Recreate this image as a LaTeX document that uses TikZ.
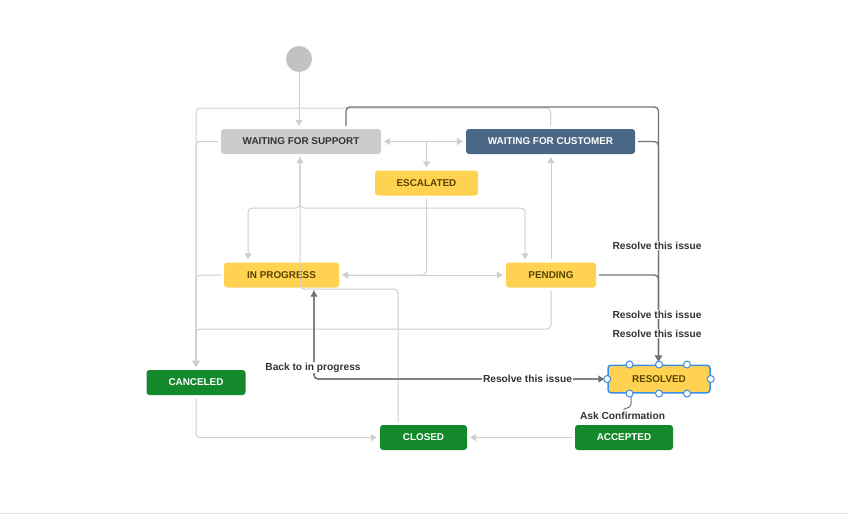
\documentclass[tikz,border=0pt]{standalone}
\usepackage{fontspec}
\setmainfont{Liberation Sans}
\usetikzlibrary{arrows.meta, positioning}
\definecolor{waitgray}{HTML}{CCCCCC}
\definecolor{custblue}{HTML}{4A6785}
\definecolor{todoyellow}{HTML}{FFD351}
\definecolor{donegreen}{HTML}{14892C}
\definecolor{textbrown}{HTML}{594300}
\definecolor{textdark}{HTML}{333333}
\definecolor{liteline}{HTML}{CFCFCF}
\definecolor{darkline}{HTML}{727272}
\definecolor{selblue}{HTML}{3B8EE4}
\definecolor{startgray}{HTML}{C2C2C2}
\newcommand\statusfont{\fontsize{9.9}{11}\selectfont\bfseries}
\newcommand\labelfont{\fontsize{10.2}{12}\selectfont\bfseries}

\tikzset{
  status/.style={rectangle, rounded corners=3pt, minimum height=25pt, inner sep=0pt, font=\statusfont},
  waitbox/.style={status, fill=waitgray, text=textdark},
  custbox/.style={status, fill=custblue, text=white},
  yellowbox/.style={status, fill=todoyellow, text=textbrown},
  greenbox/.style={status, fill=donegreen, text=white},
  startdot/.style={circle, fill=startgray, minimum size=26pt, inner sep=0pt},
  lite/.style={draw=liteline, line width=1pt, rounded corners=4pt, shorten >=3pt, shorten <=3pt, -{Triangle[length=6pt,width=7pt]}},
  dark/.style={draw=darkline, line width=1.3pt, rounded corners=4pt, shorten >=3pt, shorten <=3pt, -{Triangle[length=6pt,width=7pt]}},
  both/.style={{Triangle[length=6pt,width=7pt]}-{Triangle[length=6pt,width=7pt]}},
  lbl/.style={fill=white, inner sep=1pt, text=textdark, font=\labelfont},
  handle/.style={draw=selblue, fill=white, line width=1pt}
}

\begin{document}
\begin{tikzpicture}[x=1pt, y=-1pt]
\useasboundingbox (0,0) rectangle (847,523);

% statuses
\node[startdot] (start) at (299,59) {};
\node[waitbox, minimum width=160pt] (wfs) at (301,141.5) {WAITING FOR SUPPORT};
\node[custbox, minimum width=169pt] (wfc) at (550.5,141.5) {WAITING FOR CUSTOMER};
\node[yellowbox, minimum width=103pt] (esc) at (426.5,183) {ESCALATED};
\node[yellowbox, minimum width=115pt] (inprog) at (281.5,275) {IN PROGRESS};
\node[yellowbox, minimum width=90pt] (pend) at (551,275) {PENDING};
\node[greenbox, minimum width=99pt] (canceled) at (196,382.5) {CANCELED};
\node[greenbox, minimum width=87pt] (closed) at (423.5,437.5) {CLOSED};
\node[greenbox, minimum width=98pt] (accepted) at (624,437.5) {ACCEPTED};
\node[yellowbox, minimum width=102pt, minimum height=27.5pt, draw=selblue, line width=1.5pt] (resolved) at (659,379) {RESOLVED};

% light transitions
\draw[lite, shorten <=0pt] (start) -- (start |- wfs.north);
\draw[lite, both] (wfs) -- (wfc);
\draw[lite, shorten <=0pt] (esc |- wfs) -- (esc);
\draw[lite] (300,0 |- wfs.south) -- (300,208) -- (248,208) -- (248,0 |- inprog.north);
\draw[lite] (300,0 |- wfs.south) -- (300,208) -- (525,208) -- (525,0 |- pend.north);
\draw[lite] (398,0 |- closed.north) -- (398,289) -- (300,289) -- (300,0 |- wfs.south);
\draw[lite] (pend) -- (pend |- wfc.south);
\draw[lite] (esc) -- (esc |- inprog) -- (inprog);
\draw[lite, both] (inprog) -- (pend);
\draw[lite] (wfs) -- (196,141.5) -- (canceled);
\draw[lite] (inprog) -- (196,275) -- (canceled);
\draw[lite] (pend) -- (551,329) -- (196,329) -- (canceled);
\draw[lite] (wfc) -- (550.5,108) -- (196,108) -- (canceled);
\draw[lite] (canceled) -- (196,437.5) -- (closed);
\draw[lite] (accepted) -- (closed);

% transitions to and from resolved
\draw[dark] (346,0 |- wfs.north) -- (346,107) -- (658.5,107) -- (658.5,0 |- resolved.north);
\draw[dark] (wfc) -- (658.5,141.5) -- (658.5,0 |- resolved.north);
\draw[dark] (pend) -- (658.5,275) -- (658.5,0 |- resolved.north);
\draw[dark] (314,0 |- inprog.south) -- (314,379) -- (resolved);
\draw[dark] (resolved) -- (314,379) -- (314,0 |- inprog.south);
\draw[dark, -, line width=1pt, shorten >=6pt] (631,0 |- resolved.south) -- (631,408) -- (623,408) -- (623,0 |- accepted.north);

% labels
\node[lbl] (lres1) at (657,245.5) {Resolve this issue};
\node[lbl] (lres2) at (657,314.5) {Resolve this issue};
\node[lbl] (lres3) at (657,333.5) {Resolve this issue};
\node[lbl] (lres4) at (527.5,379) {Resolve this issue};
\node[lbl] (lback) at (313,367.5) {Back to in progress};
\node[lbl, inner ysep=2pt] (lask) at (622.5,415.5) {Ask Confirmation};

% selection handles
\foreach \dx in {-29.5,0,28} {
  \draw[handle] ([xshift=\dx pt]resolved.north) circle [radius=3.5pt];
  \draw[handle] ([xshift=\dx pt]resolved.south) circle [radius=3.5pt];
}
\draw[handle] (resolved.west) circle [radius=3.5pt];
\draw[handle] (resolved.east) circle [radius=3.5pt];

\draw[waitgray!60, line width=1pt] (0,513) -- (847,513);
\end{tikzpicture}
\end{document}
